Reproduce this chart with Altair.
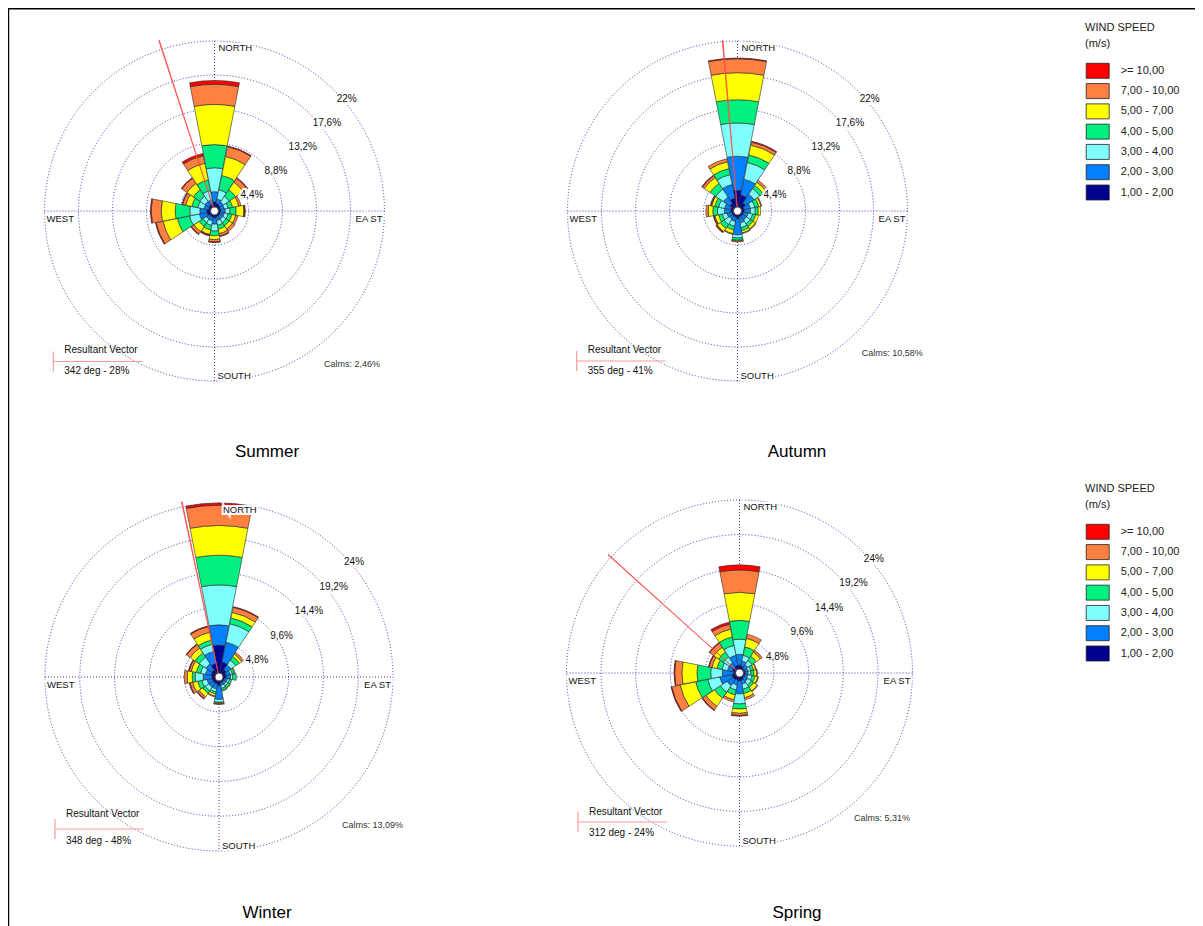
import math
import altair as alt
import pandas as pd

FONT = "Liberation Sans"

DIRECTIONS = ["N", "NNE", "NE", "ENE", "E", "ESE", "SE", "SSE",
              "S", "SSW", "SW", "WSW", "W", "WNW", "NW", "NNW"]
# speed classes from the centre outwards
SPEED_BINS = ["1,00 - 2,00", "2,00 - 3,00", "3,00 - 4,00", "4,00 - 5,00",
              "5,00 - 7,00", "7,00 - 10,00", ">= 10,00"]
BIN_COLORS = ["#000090", "#0080FF", "#80FFFF", "#00F080",
              "#FFFF00", "#FF8040", "#FF0000"]
LEGEND_ORDER = list(reversed(SPEED_BINS))

# frequency (%) per direction, columns follow SPEED_BINS
SUMMER = [
    [1.2, 1.3, 3.1, 3.0, 5.2, 2.6, 0.5],
    [1.0, 0.6, 1.2, 1.9, 2.5, 1.3, 0.1],
    [0.9, 0.5, 0.9, 1.0, 1.2, 0.6, 0.1],
    [0.8, 0.5, 0.5, 0.6, 0.8, 0.3, 0.0],
    [0.8, 0.6, 0.6, 0.8, 1.0, 0.1, 0.1],
    [0.8, 0.5, 0.5, 0.5, 0.5, 0.3, 0.0],
    [0.8, 0.5, 0.5, 0.5, 0.5, 0.4, 0.0],
    [0.8, 0.5, 0.6, 0.5, 0.6, 0.3, 0.1],
    [0.9, 0.8, 0.9, 0.6, 0.5, 0.3, 0.1],
    [0.8, 0.5, 0.6, 0.6, 0.6, 0.1, 0.1],
    [0.8, 0.5, 0.5, 0.6, 0.8, 0.4, 0.1],
    [1.0, 1.0, 1.3, 1.6, 1.9, 0.9, 0.1],
    [1.0, 0.9, 1.3, 1.9, 1.8, 1.3, 0.1],
    [0.8, 0.6, 0.8, 0.8, 0.8, 0.4, 0.1],
    [0.9, 0.6, 0.8, 1.0, 1.0, 0.8, 0.1],
    [0.9, 0.6, 1.2, 1.4, 2.2, 1.0, 0.3],
]
AUTUMN = [
    [2.7, 4.4, 4.3, 3.0, 3.5, 1.8, 0.1],
    [2.1, 2.1, 2.2, 1.0, 1.3, 0.4, 0.1],
    [1.3, 1.3, 0.9, 0.5, 0.5, 0.3, 0.0],
    [0.9, 0.8, 0.6, 0.5, 0.3, 0.1, 0.0],
    [0.9, 0.8, 0.6, 0.4, 0.3, 0.0, 0.0],
    [0.8, 0.6, 0.6, 0.4, 0.4, 0.0, 0.0],
    [0.8, 0.6, 0.6, 0.4, 0.4, 0.1, 0.0],
    [0.8, 0.8, 0.6, 0.4, 0.3, 0.1, 0.0],
    [1.0, 2.1, 0.4, 0.3, 0.1, 0.1, 0.0],
    [0.8, 0.6, 0.6, 0.5, 0.5, 0.1, 0.0],
    [0.8, 0.5, 0.8, 0.6, 0.5, 0.1, 0.1],
    [0.8, 0.6, 0.6, 0.5, 0.5, 0.1, 0.1],
    [0.9, 0.8, 0.9, 0.6, 0.6, 0.3, 0.0],
    [0.9, 0.8, 0.8, 0.5, 0.4, 0.1, 0.1],
    [1.2, 1.0, 1.2, 0.9, 0.9, 0.3, 0.1],
    [1.7, 1.8, 1.3, 0.8, 0.9, 0.4, 0.0],
]
WINTER = [
    [4.4, 2.8, 5.5, 4.1, 4.1, 2.8, 0.3],
    [2.1, 2.8, 2.6, 0.8, 0.8, 0.7, 0.1],
    [1.2, 0.8, 0.8, 0.6, 0.4, 0.3, 0.0],
    [1.0, 0.6, 0.3, 0.3, 0.1, 0.0, 0.0],
    [1.0, 0.6, 0.3, 0.5, 0.0, 0.0, 0.0],
    [0.8, 0.4, 0.3, 0.3, 0.0, 0.0, 0.0],
    [0.8, 0.4, 0.3, 0.3, 0.1, 0.0, 0.0],
    [0.8, 0.4, 0.4, 0.3, 0.1, 0.0, 0.0],
    [1.2, 1.9, 0.4, 0.1, 0.1, 0.1, 0.0],
    [1.0, 0.7, 0.4, 0.3, 0.3, 0.1, 0.0],
    [1.0, 0.7, 0.6, 0.4, 0.6, 0.3, 0.1],
    [1.0, 0.7, 0.7, 0.6, 0.7, 0.4, 0.1],
    [1.0, 1.2, 1.1, 0.4, 0.7, 0.4, 0.0],
    [1.1, 0.8, 0.7, 0.6, 0.7, 0.3, 0.1],
    [1.2, 1.0, 1.1, 0.7, 0.8, 0.6, 0.1],
    [1.9, 1.7, 1.0, 0.6, 1.1, 0.8, 0.1],
]
SPRING = [
    [1.1, 1.5, 2.1, 2.6, 3.9, 3.1, 0.7],
    [1.0, 0.7, 0.8, 1.2, 1.2, 0.6, 0.0],
    [0.8, 0.6, 0.7, 0.7, 0.7, 0.3, 0.0],
    [0.8, 0.4, 0.4, 0.4, 0.3, 0.1, 0.0],
    [0.8, 0.4, 0.4, 0.4, 0.4, 0.1, 0.0],
    [0.8, 0.4, 0.6, 0.4, 0.4, 0.1, 0.0],
    [0.8, 0.6, 0.6, 0.4, 0.6, 0.1, 0.0],
    [1.0, 0.6, 0.7, 0.6, 0.6, 0.3, 0.0],
    [1.1, 1.8, 1.4, 0.7, 0.6, 0.3, 0.1],
    [1.0, 0.7, 0.7, 0.7, 0.7, 0.3, 0.0],
    [1.1, 1.0, 1.1, 1.0, 1.4, 0.6, 0.1],
    [1.1, 1.7, 1.7, 1.7, 2.2, 1.2, 0.1],
    [0.8, 1.6, 1.6, 1.9, 2.1, 1.0, 0.1],
    [1.0, 0.7, 0.8, 0.7, 0.7, 0.4, 0.1],
    [1.0, 0.7, 1.0, 0.8, 0.8, 0.7, 0.1],
    [1.1, 1.4, 1.4, 1.2, 1.1, 0.7, 0.3],
]

SEASONS = ["Summer", "Autumn", "Winter", "Spring"]
SEASON_DATA = [SUMMER, AUTUMN, WINTER, SPRING]
RING_VALUES_A = [4.4, 8.8, 13.2, 17.6, 22.0]
RING_LABELS_A = ["4,4%", "8,8%", "13,2%", "17,6%", "22%"]
RING_VALUES_B = [4.8, 9.6, 14.4, 19.2, 24.0]
RING_LABELS_B = ["4,8%", "9,6%", "14,4%", "19,2%", "24%"]
VECTOR_DEG = [342, 355, 348, 312]
VECTOR_PCT = [28, 41, 48, 24]
VECTOR_DRAWN = [23.2, 22.2, 24.7, 24.5]
CALMS = ["2,46%", "10,58%", "13,09%", "5,31%"]

# layout (chart pixels)
LAYOUT = [
    dict(cx=206.5, cy=203, R=170, vmax=22.0, rings=(RING_VALUES_A, RING_LABELS_A),
         vx=45.3, vy=353.5, rvy=342, valy=363, calx=316, caly=355.5, tx=259, ty=444),
    dict(cx=729.5, cy=203, R=170, vmax=22.0, rings=(RING_VALUES_A, RING_LABELS_A),
         vx=568.7, vy=353, rvy=341.5, valy=362.5, calx=853.7, caly=345, tx=789, ty=444),
    dict(cx=211, cy=669, R=174, vmax=24.0, rings=(RING_VALUES_B, RING_LABELS_B),
         vx=47, vy=821, rvy=806, valy=833, calx=334, caly=817, tx=259, ty=905),
    dict(cx=731.5, cy=665, R=173, vmax=24.0, rings=(RING_VALUES_B, RING_LABELS_B),
         vx=570, vy=814, rvy=804, valy=825, calx=846, caly=810, tx=789, ty=905),
]

W, H = 1187, 918
THETA = alt.Scale(domain=[0, 360], range=[0, 2 * math.pi])
FILL = alt.Scale(domain=SPEED_BINS, range=BIN_COLORS)
RING_COLOR = "#3c3cb0"
DUMMY = pd.DataFrame({"k": [0]})


def text(txt, x, y, size=10, align="left", baseline="middle", halo=False, color="#111"):
    out = []
    if halo:
        out.append(alt.Chart(DUMMY).mark_text(
            text=txt, font=FONT, fontSize=size, align=align, baseline=baseline,
            stroke="white", strokeWidth=4, fill="white"
        ).encode(x=alt.value(x), y=alt.value(y)))
    out.append(alt.Chart(DUMMY).mark_text(
        text=txt, font=FONT, fontSize=size, align=align, baseline=baseline, fill=color
    ).encode(x=alt.value(x), y=alt.value(y)))
    return out


def rose(idx):
    L = LAYOUT[idx]
    cx, cy, R = L["cx"], L["cy"], L["R"]
    rscale = alt.Scale(type="linear", domain=[0, L["vmax"]], range=[0, R])
    ring_vals, ring_labs = L["rings"]
    layers = []

    rings = pd.DataFrame({"v": ring_vals, "lab": ring_labs})
    layers.append(alt.Chart(rings).mark_arc(
        filled=False, stroke=RING_COLOR, strokeWidth=1, strokeDash=[1, 2],
        theta=0, theta2=2 * math.pi
    ).encode(x=alt.value(cx), y=alt.value(cy),
             radius=alt.Radius("v:Q", scale=rscale, stack=None)))
    layers.append(alt.Chart(DUMMY).mark_rule(
        stroke=RING_COLOR, strokeWidth=1, strokeDash=[1, 2]
    ).encode(x=alt.value(cx), y=alt.value(cy - R), y2=alt.value(cy + R)))
    layers.append(alt.Chart(DUMMY).mark_rule(
        stroke=RING_COLOR, strokeWidth=1, strokeDash=[1, 2]
    ).encode(x=alt.value(cx - R), x2=alt.value(cx + R), y=alt.value(cy)))

    rows = []
    for i, freqs in enumerate(SEASON_DATA[idx]):
        cum = 0.0
        for b, f in zip(SPEED_BINS, freqs):
            if f <= 0:
                continue
            rows.append(dict(dir=DIRECTIONS[i], t0=22.5 * i - 11.0, t1=22.5 * i + 11.0,
                             r0=cum, r1=cum + f, bin=b))
            cum += f
    bars = pd.DataFrame(rows)
    layers.append(alt.Chart(bars).mark_arc(stroke="#2a2a2a", strokeWidth=0.6).encode(
        x=alt.value(cx), y=alt.value(cy),
        theta=alt.Theta("t0:Q", scale=THETA, stack=None), theta2="t1:Q",
        radius=alt.Radius("r1:Q", scale=rscale, stack=None), radius2="r0:Q",
        fill=alt.Fill("bin:N", scale=FILL, legend=None)))

    vd = VECTOR_DEG[idx]
    vec = pd.DataFrame({"t0": [vd - 0.12], "t1": [vd + 0.12], "r": [VECTOR_DRAWN[idx]]})
    layers.append(alt.Chart(vec).mark_arc(fill="#ff4a4a", stroke="#ff4a4a", strokeWidth=0.7).encode(
        x=alt.value(cx), y=alt.value(cy),
        theta=alt.Theta("t0:Q", scale=THETA, stack=None), theta2="t1:Q",
        radius=alt.Radius("r:Q", scale=rscale, stack=None)))

    layers.append(alt.Chart(DUMMY).mark_arc(
        radius=4, theta=0, theta2=2 * math.pi, fill="white", stroke="#333", strokeWidth=0.8
    ).encode(x=alt.value(cx), y=alt.value(cy)))

    # ring labels
    for halo in (True, False):
        kw = dict(stroke="white", strokeWidth=4, fill="white") if halo else dict(fill="#111")
        layers.append(alt.Chart(rings).mark_text(
            font=FONT, fontSize=10, align="left", baseline="top", dx=2, dy=3, **kw
        ).encode(x=alt.value(cx), y=alt.value(cy), theta=alt.value(math.pi / 4),
                 radius=alt.Radius("v:Q", scale=rscale, stack=None), text="lab:N"))

    layers += text("NORTH", cx + 4, cy - R + 2, 9.5, "left", "top", halo=True)
    layers += text("SOUTH", cx + 3, cy + R - 2, 9.5, "left", "alphabetic", halo=True)
    layers += text("WEST", cx - R + 2, cy + 3, 9.5, "left", "top", halo=True)
    layers += text("EA ST", cx + R - 2, cy + 3, 9.5, "right", "top", halo=True)

    # resultant vector legend
    vx, vy = L["vx"], L["vy"]
    layers.append(alt.Chart(DUMMY).mark_rule(stroke="#ff9a9a", strokeWidth=1.2).encode(
        x=alt.value(vx), x2=alt.value(vx + 89), y=alt.value(vy)))
    layers.append(alt.Chart(DUMMY).mark_rule(stroke="#ff9a9a", strokeWidth=1.2).encode(
        x=alt.value(vx), y=alt.value(vy - 10), y2=alt.value(vy + 10)))
    layers += text("Resultant Vector", vx + 11, L["rvy"], 10)
    layers += text(f"{VECTOR_DEG[idx]} deg - {VECTOR_PCT[idx]}%", vx + 11, L["valy"], 10)
    layers += text(f"Calms: {CALMS[idx]}", L["calx"], L["caly"], 9, color="#333")
    layers += text(SEASONS[idx], L["tx"], L["ty"], 17, "center", "middle", color="#000")
    return layers


def legend(oy):
    df = pd.DataFrame({"bin": LEGEND_ORDER})
    ys = alt.Scale(type="point", domain=LEGEND_ORDER, range=[62.8 + oy, 184.5 + oy], padding=0)
    out = []
    out += text("WIND SPEED", 1077, 20 + oy, 11, color="#222")
    out += text("(m/s)", 1077, 36 + oy, 11, color="#222")
    out.append(alt.Chart(df).mark_point(
        shape="M-1,-0.652H1V0.652H-1Z", size=529, filled=True, opacity=1,
        stroke="#222", strokeWidth=0.8
    ).encode(x=alt.value(1089.7), y=alt.Y("bin:N", scale=ys, axis=None),
             fill=alt.Fill("bin:N", scale=FILL, legend=None)))
    out.append(alt.Chart(df).mark_text(
        font=FONT, fontSize=11, align="left", baseline="middle", fill="#222"
    ).encode(x=alt.value(1112.7), y=alt.Y("bin:N", scale=ys, axis=None), text="bin:N"))
    return out


layers = []
layers.append(alt.Chart(DUMMY).mark_rule(stroke="#000", strokeWidth=1.5).encode(
    x=alt.value(0), x2=alt.value(W), y=alt.value(0.75)))
layers.append(alt.Chart(DUMMY).mark_rule(stroke="#000", strokeWidth=1.2).encode(
    x=alt.value(0.6), y=alt.value(0), y2=alt.value(H)))
for i in range(4):
    layers += rose(i)
layers += legend(0)
layers += legend(461)

chart = alt.layer(*layers).resolve_scale(radius="independent", y="independent").properties(
    width=W, height=H, autosize=alt.AutoSizeParams(type="none"), padding=0,
    background="white"
).configure_view(stroke=None)

chart.save("out.html", embed_options={"renderer": "svg", "actions": False})
